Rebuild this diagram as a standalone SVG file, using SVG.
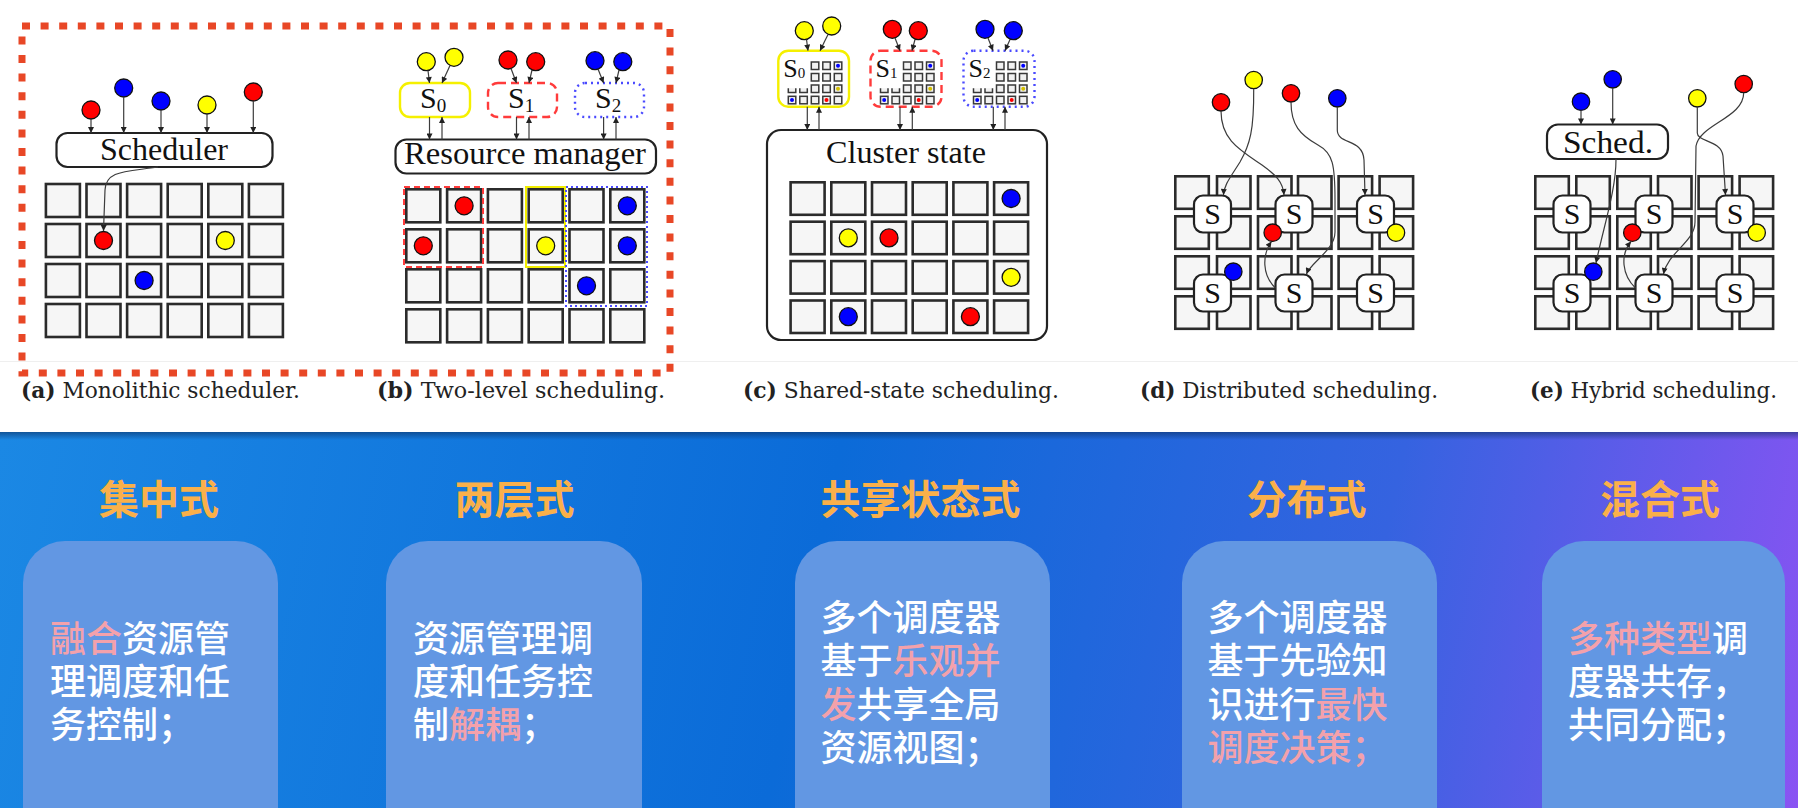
<svg xmlns="http://www.w3.org/2000/svg" xmlns:xlink="http://www.w3.org/1999/xlink" width="1798" height="808" viewBox="0 0 1798 808">
<style>
.cell{fill:#f6f6f6;stroke:#2b2b2b;stroke-width:2.6}
.ball{stroke:#111;stroke-width:1.3}
.r{fill:#ff0000}.b{fill:#0000ff}.y{fill:#ffff00}
.box{fill:#fff;stroke:#222;stroke-width:2.2}
.lbl{font-family:"Liberation Serif","Times New Roman",serif;fill:#111}
.conn{fill:none;stroke:#3c3c3c;stroke-width:1.2;marker-end:url(#ah)}
.cap{font-family:"DejaVu Serif","Liberation Serif",serif;font-size:22px;fill:#222}
.h{font-family:"Noto Sans CJK SC",sans-serif;font-weight:700;font-size:40px;fill:#fab04a;text-anchor:middle}
.t{font-family:"Noto Sans CJK SC",sans-serif;font-weight:500;font-size:36px;fill:#fff}
.pk{fill:#f3a1ab}
.card{fill:#6297e3}
.mc{fill:#f1f1f1;stroke:#383838;stroke-width:1.5}
</style>
<defs>
<marker id="ah" viewBox="0 0 10 10" refX="10" refY="5" markerWidth="7" markerHeight="6" markerUnits="userSpaceOnUse" orient="auto"><path d="M0,0 L10,5 L0,10 z" fill="#222"/></marker>
<linearGradient id="bg" gradientUnits="userSpaceOnUse" x1="0" y1="432" x2="1798" y2="808">
<stop offset="0" stop-color="#1b88e4"/><stop offset="0.45" stop-color="#0b6bd8"/><stop offset="0.75" stop-color="#3563e0"/><stop offset="1" stop-color="#8a53f3"/>
</linearGradient>
<linearGradient id="sh" x1="0" y1="0" x2="0" y2="1"><stop offset="0" stop-color="#0a2a5a" stop-opacity="0.55"/><stop offset="1" stop-color="#0a2a5a" stop-opacity="0"/></linearGradient>
<g id="mini">
<rect class="mc" x="33" y="11.3" width="7.5" height="7.5"/><rect class="mc" x="44.5" y="11.3" width="7.5" height="7.5"/><rect class="mc" x="56" y="11.3" width="7.5" height="7.5"/>
<rect class="mc" x="33" y="22.8" width="7.5" height="7.5"/><rect class="mc" x="44.5" y="22.8" width="7.5" height="7.5"/><rect class="mc" x="56" y="22.8" width="7.5" height="7.5"/>
<path class="mc" d="M10,37.5 v4.3 h7.5 v-4.3 M21.5,37.5 v4.3 h7.5 v-4.3"/>
<rect class="mc" x="33" y="34.3" width="7.5" height="7.5"/><rect class="mc" x="44.5" y="34.3" width="7.5" height="7.5"/><rect class="mc" x="56" y="34.3" width="7.5" height="7.5"/>
<rect class="mc" x="10" y="45.6" width="7.5" height="7.5"/><rect class="mc" x="21.5" y="45.6" width="7.5" height="7.5"/><rect class="mc" x="33" y="45.6" width="7.5" height="7.5"/><rect class="mc" x="44.5" y="45.6" width="7.5" height="7.5"/><rect class="mc" x="56" y="45.6" width="7.5" height="7.5"/>
<circle cx="59.7" cy="15" r="2" class="b"/><circle cx="59.7" cy="38" r="2" fill="#d4c000"/><circle cx="13.7" cy="49.3" r="2" class="b"/><circle cx="48.2" cy="49.3" r="2" class="r"/>
</g>
</defs>

<rect x="0" y="0" width="1798" height="432" fill="#ffffff"/>
<line x1="0" y1="361.5" x2="1798" y2="361.5" stroke="#efefef" stroke-width="1"/>

<!-- Panel (a) -->
<g id="panel-a">
<g id="a-scheduler"><rect class="box" x="56.5" y="133" width="216" height="34" rx="11"/><text class="lbl" x="164" y="160" font-size="32" text-anchor="middle" textLength="128" lengthAdjust="spacingAndGlyphs">Scheduler</text></g>
<g id="a-grid">
<rect class="cell" x="45.9" y="184" width="34" height="33"/><rect class="cell" x="86.5" y="184" width="34" height="33"/><rect class="cell" x="127.1" y="184" width="34" height="33"/><rect class="cell" x="167.7" y="184" width="34" height="33"/><rect class="cell" x="208.3" y="184" width="34" height="33"/><rect class="cell" x="248.9" y="184" width="34" height="33"/>
<rect class="cell" x="45.9" y="224" width="34" height="33"/><rect class="cell" x="86.5" y="224" width="34" height="33"/><rect class="cell" x="127.1" y="224" width="34" height="33"/><rect class="cell" x="167.7" y="224" width="34" height="33"/><rect class="cell" x="208.3" y="224" width="34" height="33"/><rect class="cell" x="248.9" y="224" width="34" height="33"/>
<rect class="cell" x="45.9" y="264" width="34" height="33"/><rect class="cell" x="86.5" y="264" width="34" height="33"/><rect class="cell" x="127.1" y="264" width="34" height="33"/><rect class="cell" x="167.7" y="264" width="34" height="33"/><rect class="cell" x="208.3" y="264" width="34" height="33"/><rect class="cell" x="248.9" y="264" width="34" height="33"/>
<rect class="cell" x="45.9" y="304" width="34" height="33"/><rect class="cell" x="86.5" y="304" width="34" height="33"/><rect class="cell" x="127.1" y="304" width="34" height="33"/><rect class="cell" x="167.7" y="304" width="34" height="33"/><rect class="cell" x="208.3" y="304" width="34" height="33"/><rect class="cell" x="248.9" y="304" width="34" height="33"/>
</g>
<g id="a-tasks">
<circle class="ball r" cx="91" cy="110" r="9"/><circle class="ball b" cx="123.7" cy="88" r="9"/><circle class="ball b" cx="161" cy="101" r="9"/><circle class="ball y" cx="207" cy="105" r="9"/><circle class="ball r" cx="253.3" cy="92" r="9"/>
<circle class="ball r" cx="103.5" cy="240.5" r="9"/><circle class="ball y" cx="225.3" cy="240.5" r="9"/><circle class="ball b" cx="144.1" cy="280.5" r="9"/>
</g>
</g>

<!-- Panel (b) -->
<g id="panel-b">
<g id="b-s0"><rect x="400" y="83" width="70" height="34" rx="10" fill="#fff" stroke="#f5f000" stroke-width="2.4"/><text class="lbl" x="420" y="108" font-size="30">S<tspan font-size="19" dy="3.5">0</tspan></text></g>
<g id="b-s1"><rect x="488" y="83" width="69" height="34" rx="10" fill="#fff" stroke="#ff3b3b" stroke-width="2.4" stroke-dasharray="8 5"/><text class="lbl" x="508" y="108" font-size="30">S<tspan font-size="19" dy="3.5">1</tspan></text></g>
<g id="b-s2"><rect x="575" y="83" width="69" height="34" rx="10" fill="#fff" stroke="#4a4aff" stroke-width="2.4" stroke-dasharray="2 4"/><text class="lbl" x="595" y="108" font-size="30">S<tspan font-size="19" dy="3.5">2</tspan></text></g>
<g id="b-rm"><rect class="box" x="395.5" y="139.5" width="260.5" height="34" rx="11"/><text class="lbl" x="525" y="164" font-size="31" text-anchor="middle" textLength="242" lengthAdjust="spacingAndGlyphs">Resource manager</text></g>
<g id="b-grid">
<rect class="cell" x="406.3" y="189.3" width="34" height="33"/><rect class="cell" x="447.1" y="189.3" width="34" height="33"/><rect class="cell" x="487.9" y="189.3" width="34" height="33"/><rect class="cell" x="528.7" y="189.3" width="34" height="33"/><rect class="cell" x="569.5" y="189.3" width="34" height="33"/><rect class="cell" x="610.3" y="189.3" width="34" height="33"/>
<rect class="cell" x="406.3" y="229.3" width="34" height="33"/><rect class="cell" x="447.1" y="229.3" width="34" height="33"/><rect class="cell" x="487.9" y="229.3" width="34" height="33"/><rect class="cell" x="528.7" y="229.3" width="34" height="33"/><rect class="cell" x="569.5" y="229.3" width="34" height="33"/><rect class="cell" x="610.3" y="229.3" width="34" height="33"/>
<rect class="cell" x="406.3" y="269.3" width="34" height="33"/><rect class="cell" x="447.1" y="269.3" width="34" height="33"/><rect class="cell" x="487.9" y="269.3" width="34" height="33"/><rect class="cell" x="528.7" y="269.3" width="34" height="33"/><rect class="cell" x="569.5" y="269.3" width="34" height="33"/><rect class="cell" x="610.3" y="269.3" width="34" height="33"/>
<rect class="cell" x="406.3" y="309.3" width="34" height="33"/><rect class="cell" x="447.1" y="309.3" width="34" height="33"/><rect class="cell" x="487.9" y="309.3" width="34" height="33"/><rect class="cell" x="528.7" y="309.3" width="34" height="33"/><rect class="cell" x="569.5" y="309.3" width="34" height="33"/><rect class="cell" x="610.3" y="309.3" width="34" height="33"/>
<rect x="404" y="187" width="79" height="80" fill="none" stroke="#ff3b3b" stroke-width="2" stroke-dasharray="6 4"/>
<rect x="526" y="187" width="39" height="80" fill="none" stroke="#f2ee00" stroke-width="2"/>
<rect x="566" y="187" width="81" height="119" fill="none" stroke="#4a4aff" stroke-width="2" stroke-dasharray="2 3"/>
</g>
<g id="b-tasks">
<circle class="ball y" cx="426.3" cy="61.7" r="9"/><circle class="ball y" cx="454" cy="57.3" r="9"/><circle class="ball r" cx="508" cy="60" r="9"/><circle class="ball r" cx="535.7" cy="61.7" r="9"/><circle class="ball b" cx="595" cy="60.7" r="9"/><circle class="ball b" cx="622.8" cy="61.7" r="9"/>
<circle class="ball r" cx="464.1" cy="205.8" r="9"/><circle class="ball b" cx="627.3" cy="205.8" r="9"/><circle class="ball r" cx="423.3" cy="245.8" r="9"/><circle class="ball y" cx="545.7" cy="245.8" r="9"/><circle class="ball b" cx="627.3" cy="245.8" r="9"/><circle class="ball b" cx="586.5" cy="285.8" r="9"/>
</g>
</g>

<!-- Panel (c) -->
<g id="panel-c">
<g id="c-cluster"><rect class="box" x="767" y="130" width="280" height="210" rx="14"/><text class="lbl" x="906" y="163" font-size="31" text-anchor="middle" textLength="160" lengthAdjust="spacingAndGlyphs">Cluster state</text></g>
<g id="c-s0"><rect x="778.3" y="50.7" width="70.7" height="56" rx="10" fill="#fff" stroke="#f5f000" stroke-width="2.4"/><use xlink:href="#mini" x="778.3" y="50.7"/><text class="lbl" x="783.3" y="76.7" font-size="26">S<tspan font-size="15" dy="1.6">0</tspan></text></g>
<g id="c-s1"><rect x="870.5" y="50.7" width="71" height="56" rx="10" fill="#fff" stroke="#ff3b3b" stroke-width="2.4" stroke-dasharray="8 5"/><use xlink:href="#mini" x="870.5" y="50.7"/><text class="lbl" x="875.5" y="76.7" font-size="26">S<tspan font-size="15" dy="1.6">1</tspan></text></g>
<g id="c-s2"><rect x="963.5" y="50.7" width="71" height="56" rx="10" fill="#fff" stroke="#4a4aff" stroke-width="2.4" stroke-dasharray="2 4"/><use xlink:href="#mini" x="963.5" y="50.7"/><text class="lbl" x="968.5" y="76.7" font-size="26">S<tspan font-size="15" dy="1.6">2</tspan></text></g>
<g id="c-grid">
<rect class="cell" x="790.6" y="182.3" width="34" height="32.5"/><rect class="cell" x="831.3" y="182.3" width="34" height="32.5"/><rect class="cell" x="872" y="182.3" width="34" height="32.5"/><rect class="cell" x="912.7" y="182.3" width="34" height="32.5"/><rect class="cell" x="953.4" y="182.3" width="34" height="32.5"/><rect class="cell" x="994.1" y="182.3" width="34" height="32.5"/>
<rect class="cell" x="790.6" y="221.7" width="34" height="32.5"/><rect class="cell" x="831.3" y="221.7" width="34" height="32.5"/><rect class="cell" x="872" y="221.7" width="34" height="32.5"/><rect class="cell" x="912.7" y="221.7" width="34" height="32.5"/><rect class="cell" x="953.4" y="221.7" width="34" height="32.5"/><rect class="cell" x="994.1" y="221.7" width="34" height="32.5"/>
<rect class="cell" x="790.6" y="261.1" width="34" height="32.5"/><rect class="cell" x="831.3" y="261.1" width="34" height="32.5"/><rect class="cell" x="872" y="261.1" width="34" height="32.5"/><rect class="cell" x="912.7" y="261.1" width="34" height="32.5"/><rect class="cell" x="953.4" y="261.1" width="34" height="32.5"/><rect class="cell" x="994.1" y="261.1" width="34" height="32.5"/>
<rect class="cell" x="790.6" y="300.5" width="34" height="32.5"/><rect class="cell" x="831.3" y="300.5" width="34" height="32.5"/><rect class="cell" x="872" y="300.5" width="34" height="32.5"/><rect class="cell" x="912.7" y="300.5" width="34" height="32.5"/><rect class="cell" x="953.4" y="300.5" width="34" height="32.5"/><rect class="cell" x="994.1" y="300.5" width="34" height="32.5"/>
</g>
<g id="c-tasks">
<circle class="ball y" cx="804.3" cy="30.7" r="9"/><circle class="ball y" cx="831.7" cy="26" r="9"/><circle class="ball r" cx="892.3" cy="29.3" r="9"/><circle class="ball r" cx="918.3" cy="30.7" r="9"/><circle class="ball b" cx="985" cy="29.3" r="9"/><circle class="ball b" cx="1013.3" cy="30.7" r="9"/>
<circle class="ball b" cx="1011.1" cy="198.5" r="9"/><circle class="ball y" cx="848.3" cy="237.9" r="9"/><circle class="ball r" cx="889" cy="237.9" r="9"/><circle class="ball y" cx="1011.1" cy="277.3" r="9"/><circle class="ball b" cx="848.3" cy="316.7" r="9"/><circle class="ball r" cx="970.4" cy="316.7" r="9"/>
</g>
</g>

<!-- Panel (d) -->
<g id="panel-d">
<g id="d-grid">
<rect class="cell" x="1175.3" y="176.3" width="33.5" height="32.5"/><rect class="cell" x="1217" y="176.3" width="33.5" height="32.5"/><rect class="cell" x="1258" y="176.3" width="33.5" height="32.5"/><rect class="cell" x="1298" y="176.3" width="33.5" height="32.5"/><rect class="cell" x="1338.6" y="176.3" width="33.5" height="32.5"/><rect class="cell" x="1379.6" y="176.3" width="33.5" height="32.5"/>
<rect class="cell" x="1175.3" y="216.3" width="33.5" height="32.5"/><rect class="cell" x="1217" y="216.3" width="33.5" height="32.5"/><rect class="cell" x="1258" y="216.3" width="33.5" height="32.5"/><rect class="cell" x="1298" y="216.3" width="33.5" height="32.5"/><rect class="cell" x="1338.6" y="216.3" width="33.5" height="32.5"/><rect class="cell" x="1379.6" y="216.3" width="33.5" height="32.5"/>
<rect class="cell" x="1175.3" y="256.3" width="33.5" height="32.5"/><rect class="cell" x="1217" y="256.3" width="33.5" height="32.5"/><rect class="cell" x="1258" y="256.3" width="33.5" height="32.5"/><rect class="cell" x="1298" y="256.3" width="33.5" height="32.5"/><rect class="cell" x="1338.6" y="256.3" width="33.5" height="32.5"/><rect class="cell" x="1379.6" y="256.3" width="33.5" height="32.5"/>
<rect class="cell" x="1175.3" y="296.3" width="33.5" height="32.5"/><rect class="cell" x="1217" y="296.3" width="33.5" height="32.5"/><rect class="cell" x="1258" y="296.3" width="33.5" height="32.5"/><rect class="cell" x="1298" y="296.3" width="33.5" height="32.5"/><rect class="cell" x="1338.6" y="296.3" width="33.5" height="32.5"/><rect class="cell" x="1379.6" y="296.3" width="33.5" height="32.5"/>
</g>
<g id="d-s1"><rect class="box" x="1194" y="195.5" width="37" height="37" rx="9"/><text class="lbl" x="1212.5" y="224" font-size="30" text-anchor="middle">S</text></g>
<g id="d-s2"><rect class="box" x="1275.5" y="195.5" width="37" height="37" rx="9"/><text class="lbl" x="1294" y="224" font-size="30" text-anchor="middle">S</text></g>
<g id="d-s3"><rect class="box" x="1357" y="195.5" width="37" height="37" rx="9"/><text class="lbl" x="1375.5" y="224" font-size="30" text-anchor="middle">S</text></g>
<g id="d-s4"><rect class="box" x="1194" y="274.5" width="37" height="37" rx="9"/><text class="lbl" x="1212.5" y="303" font-size="30" text-anchor="middle">S</text></g>
<g id="d-s5"><rect class="box" x="1275.5" y="274.5" width="37" height="37" rx="9"/><text class="lbl" x="1294" y="303" font-size="30" text-anchor="middle">S</text></g>
<g id="d-s6"><rect class="box" x="1357" y="274.5" width="37" height="37" rx="9"/><text class="lbl" x="1375.5" y="303" font-size="30" text-anchor="middle">S</text></g>
<g id="d-tasks">
<circle class="ball r" cx="1221" cy="102.3" r="8.7"/><circle class="ball y" cx="1253.7" cy="80" r="8.7"/><circle class="ball r" cx="1291" cy="93.3" r="8.7"/><circle class="ball b" cx="1337.3" cy="98.3" r="8.7"/>
<circle class="ball r" cx="1272.7" cy="232.7" r="8.7"/><circle class="ball y" cx="1396" cy="232.7" r="8.7"/><circle class="ball b" cx="1233.3" cy="271.7" r="8.7"/>
</g>
</g>

<!-- Panel (e) -->
<g id="panel-e">
<g id="e-sched"><rect class="box" x="1547" y="124.5" width="121" height="34.5" rx="11"/><text class="lbl" x="1608" y="152.5" font-size="32" text-anchor="middle" textLength="90" lengthAdjust="spacingAndGlyphs">Sched.</text></g>
<g id="e-grid">
<rect class="cell" x="1535.3" y="176.3" width="33.5" height="32.5"/><rect class="cell" x="1576.3" y="176.3" width="33.5" height="32.5"/><rect class="cell" x="1617.3" y="176.3" width="33.5" height="32.5"/><rect class="cell" x="1658" y="176.3" width="33.5" height="32.5"/><rect class="cell" x="1698.6" y="176.3" width="33.5" height="32.5"/><rect class="cell" x="1739.6" y="176.3" width="33.5" height="32.5"/>
<rect class="cell" x="1535.3" y="216.3" width="33.5" height="32.5"/><rect class="cell" x="1576.3" y="216.3" width="33.5" height="32.5"/><rect class="cell" x="1617.3" y="216.3" width="33.5" height="32.5"/><rect class="cell" x="1658" y="216.3" width="33.5" height="32.5"/><rect class="cell" x="1698.6" y="216.3" width="33.5" height="32.5"/><rect class="cell" x="1739.6" y="216.3" width="33.5" height="32.5"/>
<rect class="cell" x="1535.3" y="256.3" width="33.5" height="32.5"/><rect class="cell" x="1576.3" y="256.3" width="33.5" height="32.5"/><rect class="cell" x="1617.3" y="256.3" width="33.5" height="32.5"/><rect class="cell" x="1658" y="256.3" width="33.5" height="32.5"/><rect class="cell" x="1698.6" y="256.3" width="33.5" height="32.5"/><rect class="cell" x="1739.6" y="256.3" width="33.5" height="32.5"/>
<rect class="cell" x="1535.3" y="296.3" width="33.5" height="32.5"/><rect class="cell" x="1576.3" y="296.3" width="33.5" height="32.5"/><rect class="cell" x="1617.3" y="296.3" width="33.5" height="32.5"/><rect class="cell" x="1658" y="296.3" width="33.5" height="32.5"/><rect class="cell" x="1698.6" y="296.3" width="33.5" height="32.5"/><rect class="cell" x="1739.6" y="296.3" width="33.5" height="32.5"/>
</g>
<g id="e-s1"><rect class="box" x="1553.5" y="195.5" width="37" height="37" rx="9"/><text class="lbl" x="1572" y="224" font-size="30" text-anchor="middle">S</text></g>
<g id="e-s2"><rect class="box" x="1635.5" y="195.5" width="37" height="37" rx="9"/><text class="lbl" x="1654" y="224" font-size="30" text-anchor="middle">S</text></g>
<g id="e-s3"><rect class="box" x="1716.5" y="195.5" width="37" height="37" rx="9"/><text class="lbl" x="1735" y="224" font-size="30" text-anchor="middle">S</text></g>
<g id="e-s4"><rect class="box" x="1553.5" y="274.5" width="37" height="37" rx="9"/><text class="lbl" x="1572" y="303" font-size="30" text-anchor="middle">S</text></g>
<g id="e-s5"><rect class="box" x="1635.5" y="274.5" width="37" height="37" rx="9"/><text class="lbl" x="1654" y="303" font-size="30" text-anchor="middle">S</text></g>
<g id="e-s6"><rect class="box" x="1716.5" y="274.5" width="37" height="37" rx="9"/><text class="lbl" x="1735" y="303" font-size="30" text-anchor="middle">S</text></g>
<g id="e-tasks">
<circle class="ball b" cx="1581" cy="101.7" r="8.7"/><circle class="ball b" cx="1612.7" cy="79.3" r="8.7"/><circle class="ball y" cx="1697.3" cy="98.3" r="8.7"/><circle class="ball r" cx="1743.7" cy="84" r="8.7"/>
<circle class="ball r" cx="1632.3" cy="232.7" r="8.7"/><circle class="ball y" cx="1756.7" cy="232.7" r="8.7"/><circle class="ball b" cx="1593.3" cy="271.7" r="8.7"/>
</g>
</g>

<!-- Connectors -->
<g id="connectors">
<path class="conn" d="M91,119 V133"/><path class="conn" d="M123.7,97 V133"/><path class="conn" d="M161,110 V133"/><path class="conn" d="M207,114 V133"/><path class="conn" d="M253.3,101 V133"/>
<path class="conn" d="M158,167 C126,172 106,170 105,190 L103.5,231"/>
<path class="conn" d="M428,70.5 L429.5,83"/><path class="conn" d="M450,65.5 L442,83"/><path class="conn" d="M511,68.5 L516.5,83"/><path class="conn" d="M532,70 L529,83"/><path class="conn" d="M598,69 L603.6,83"/><path class="conn" d="M619,70 L616,83"/>
<path class="conn" d="M429.5,117 V139.5"/><path class="conn" d="M442,139.5 V117"/><path class="conn" d="M516.5,117 V139.5"/><path class="conn" d="M529,139.5 V117"/><path class="conn" d="M603.6,117 V139.5"/><path class="conn" d="M616,139.5 V117"/>
<path class="conn" d="M806.5,39.5 L808,50.7"/><path class="conn" d="M828,34.5 L820,50.7"/><path class="conn" d="M895,38 L900,50.7"/><path class="conn" d="M915,39.5 L912,50.7"/><path class="conn" d="M988,38 L993,50.7"/><path class="conn" d="M1010,39.5 L1005,50.7"/>
<path class="conn" d="M807.3,106.7 V130"/><path class="conn" d="M819,130 V106.7"/><path class="conn" d="M900,106.7 V130"/><path class="conn" d="M912.3,130 V106.7"/><path class="conn" d="M993.3,106.7 V130"/><path class="conn" d="M1005,130 V106.7"/>
<path class="conn" d="M1221,111 C1221,140 1240,150 1262,165 C1276,175 1283,182 1284,195"/>
<path class="conn" d="M1253.7,88.7 C1254,130 1250,145 1240,162 C1230,178 1224,185 1223.5,195"/>
<path class="conn" d="M1291,102 C1291,125 1300,135 1318,145 C1333,153 1335,165 1335,200 L1335,232 C1335,250 1311,262 1306.5,274"/>
<path class="conn" d="M1337.3,107 L1337.3,130 C1337.3,145 1363,138 1364,160 L1365,195"/>
<path class="conn" d="M1275.5,288 C1262,275 1262,255 1271.5,241.5"/>
<path class="conn" d="M1581,110.4 V124.5"/><path class="conn" d="M1612.7,88 V124.5"/>
<path class="conn" d="M1616,159 C1616,190 1604,225 1596,263"/>
<path class="conn" d="M1697.3,107 L1697.3,133 C1697.3,142 1721,140 1723,156 L1725.5,195"/>
<path class="conn" d="M1743.7,92.7 C1743.7,118 1700,124 1696,146 L1695,222 C1695,242 1668,252 1663.5,274"/>
<path class="conn" d="M1635.5,288 C1622,275 1620,255 1631,241.5"/>
</g>

<!-- Highlight border around (a) and (b) -->
<rect id="highlight" x="22" y="26" width="648" height="347" fill="none" stroke="#e84726" stroke-width="7" stroke-dasharray="8 10.6"/>

<!-- Captions -->
<g id="captions">
<text class="cap" x="21" y="398" textLength="279" lengthAdjust="spacingAndGlyphs"><tspan font-weight="bold">(a)</tspan> Monolithic scheduler.</text>
<text class="cap" x="377" y="398" textLength="288" lengthAdjust="spacingAndGlyphs"><tspan font-weight="bold">(b)</tspan> Two-level scheduling.</text>
<text class="cap" x="743" y="398" textLength="316" lengthAdjust="spacingAndGlyphs"><tspan font-weight="bold">(c)</tspan> Shared-state scheduling.</text>
<text class="cap" x="1140" y="398" textLength="298" lengthAdjust="spacingAndGlyphs"><tspan font-weight="bold">(d)</tspan> Distributed scheduling.</text>
<text class="cap" x="1530" y="398" textLength="247" lengthAdjust="spacingAndGlyphs"><tspan font-weight="bold">(e)</tspan> Hybrid scheduling.</text>
</g>

<!-- Bottom section -->
<rect x="0" y="432" width="1798" height="376" fill="url(#bg)"/>
<rect x="0" y="432" width="1798" height="8" fill="url(#sh)"/>

<g id="card-1">
<text class="h" x="159" y="514">集中式</text>
<rect class="card" x="23" y="541" width="255" height="310" rx="42"/>
<text class="t" x="50" y="652"><tspan class="pk">融合</tspan>资源管</text>
<text class="t" x="50" y="695">理调度和任</text>
<text class="t" x="50" y="738">务控制；</text>
</g>
<g id="card-2">
<text class="h" x="514.5" y="514">两层式</text>
<rect class="card" x="386" y="541" width="256" height="310" rx="42"/>
<text class="t" x="413" y="652">资源管理调</text>
<text class="t" x="413" y="695">度和任务控</text>
<text class="t" x="413" y="738">制<tspan class="pk">解耦</tspan>；</text>
</g>
<g id="card-3">
<text class="h" x="920.5" y="514">共享状态式</text>
<rect class="card" x="795" y="541" width="255" height="310" rx="42"/>
<text class="t" x="820.5" y="630.5">多个调度器</text>
<text class="t" x="820.5" y="674">基于<tspan class="pk">乐观并</tspan></text>
<text class="t" x="820.5" y="717.5"><tspan class="pk">发</tspan>共享全局</text>
<text class="t" x="820.5" y="761">资源视图；</text>
</g>
<g id="card-4">
<text class="h" x="1306.5" y="514">分布式</text>
<rect class="card" x="1182" y="541" width="255" height="310" rx="42"/>
<text class="t" x="1207.5" y="630.5">多个调度器</text>
<text class="t" x="1207.5" y="674">基于先验知</text>
<text class="t" x="1207.5" y="717.5">识进行<tspan class="pk">最快</tspan></text>
<text class="t" x="1207.5" y="761"><tspan class="pk">调度决策；</tspan></text>
</g>
<g id="card-5">
<text class="h" x="1660" y="514">混合式</text>
<rect class="card" x="1542" y="541" width="243" height="310" rx="42"/>
<text class="t" x="1568" y="652"><tspan class="pk">多种类型</tspan>调</text>
<text class="t" x="1568" y="695">度器共存，</text>
<text class="t" x="1568" y="738">共同分配；</text>
</g>
</svg>
